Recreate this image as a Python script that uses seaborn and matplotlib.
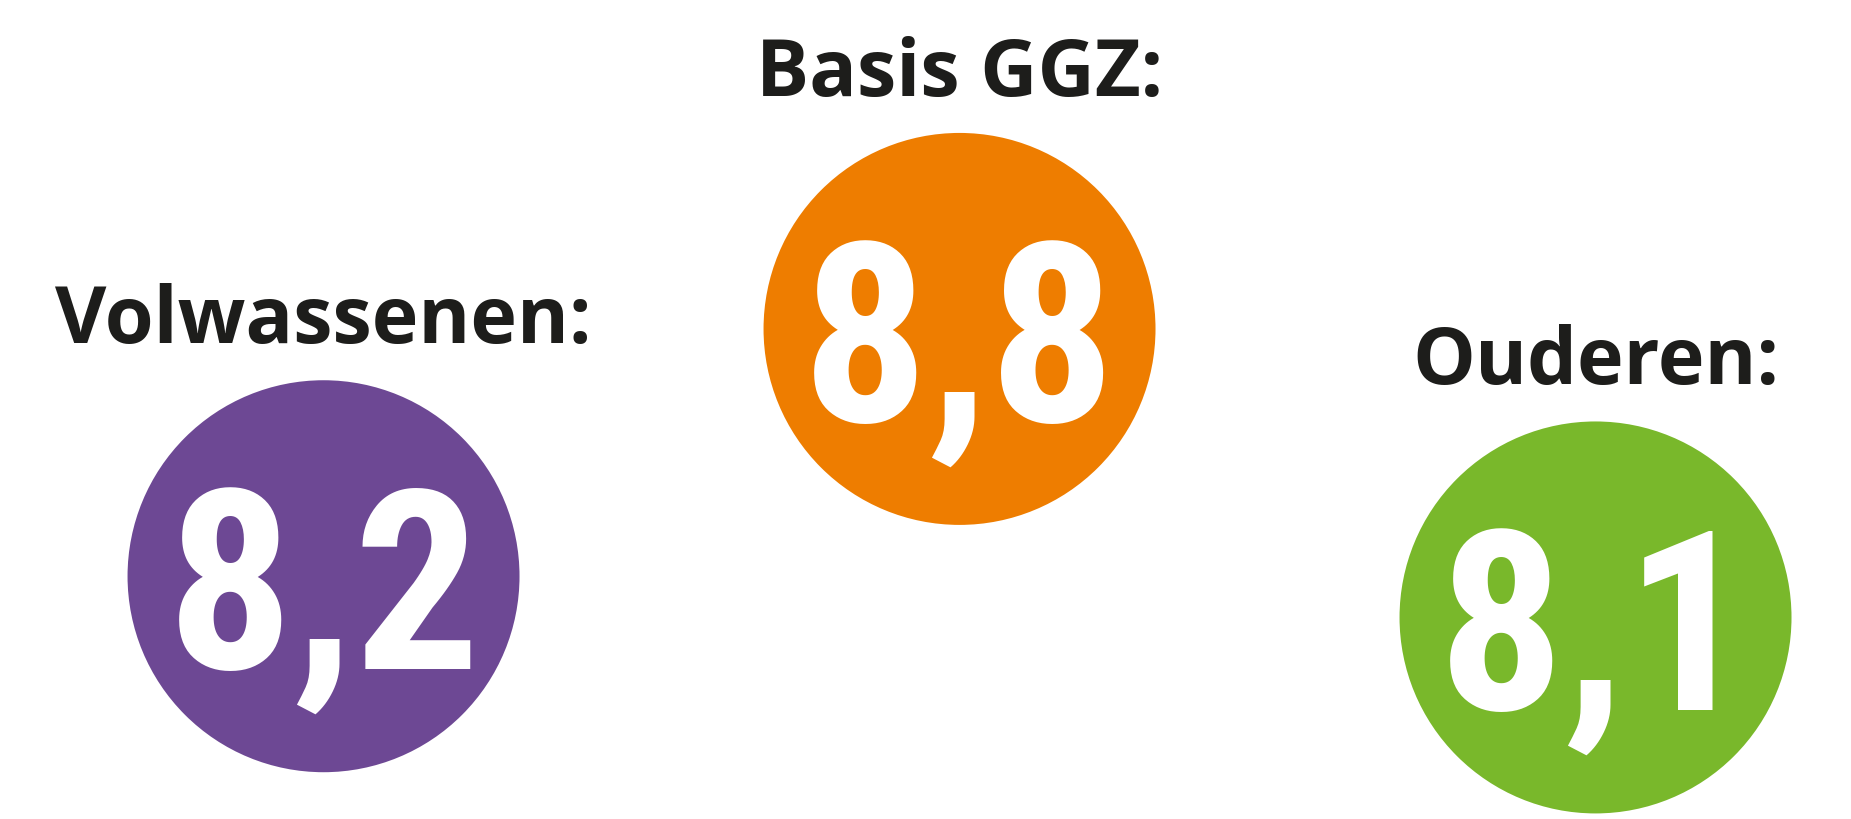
import numpy as np
import pandas as pd
import matplotlib
matplotlib.use("Agg")
import matplotlib.pyplot as plt
from matplotlib import font_manager
import seaborn as sns

# Data
groepen = ["Volwassenen:", "Basis GGZ:", "Ouderen:"]
cijfers = [8.2, 8.8, 8.1]
cijfer_tekst = ["8,2", "8,8", "8,1"]
kleuren = ["#6d4894", "#ee7d00", "#79b82b"]

df = pd.DataFrame({"groep": groepen, "cijfer": cijfers})

sns.set_theme(style="white")
plt.rcParams["font.family"] = ["Open Sans", "DejaVu Sans"]


# smal lettertype voor de cijfers zoeken (wat er maar geinstalleerd is)
def kies_cijferfont():
    fonts = font_manager.fontManager.ttflist
    kandidaten = [("Roboto Condensed", "normal", 180),
                  ("Open Sans Condensed", "normal", 180),
                  ("Liberation Sans Narrow", "normal", 188),
                  ("DejaVu Sans", "condensed", 150),
                  ("Liberation Sans", "normal", 160)]
    for naam, stretch, grootte in kandidaten:
        for f in fonts:
            if f.name == naam and (stretch == "normal" or f.stretch == stretch):
                return naam, stretch, grootte
    return "DejaVu Sans", "normal", 140


cijfer_font, cijfer_stretch, cijfer_grootte = kies_cijferfont()

fig = plt.figure(figsize=(18.51, 8.19), dpi=100)
ax = fig.add_axes([0, 0, 1, 1])

# Cirkels: hoogte volgt het cijfer
sns.scatterplot(data=df, x="groep", y="cijfer", hue="groep", palette=kleuren,
                s=79650, linewidth=0, legend=False, ax=ax, zorder=2)

for i, (groep, cijfer, tekst) in enumerate(zip(groepen, cijfers, cijfer_tekst)):
    # titel boven de cirkel
    ax.annotate(groep, (i, cijfer), xytext=(0, 168), textcoords="offset points",
                ha="center", va="baseline", fontsize=57, fontweight="bold",
                color="#1d1d1b", family=["Open Sans", "DejaVu Sans"])
    # cijfer in de cirkel
    ax.annotate(tekst, (i, cijfer), xytext=(0, -(cijfer_grootte * 0.358 + 3)),
                textcoords="offset points", ha="center", va="baseline",
                fontsize=cijfer_grootte, fontweight="bold", fontstretch=cijfer_stretch,
                color="white", family=[cijfer_font, "DejaVu Sans"], zorder=3)

ax.set_xlim(-0.5087, 2.4017)
ax.set_ylim(7.611, 9.598)
ax.set_axis_off()

fig.savefig("out.png", dpi=100, facecolor="white")
